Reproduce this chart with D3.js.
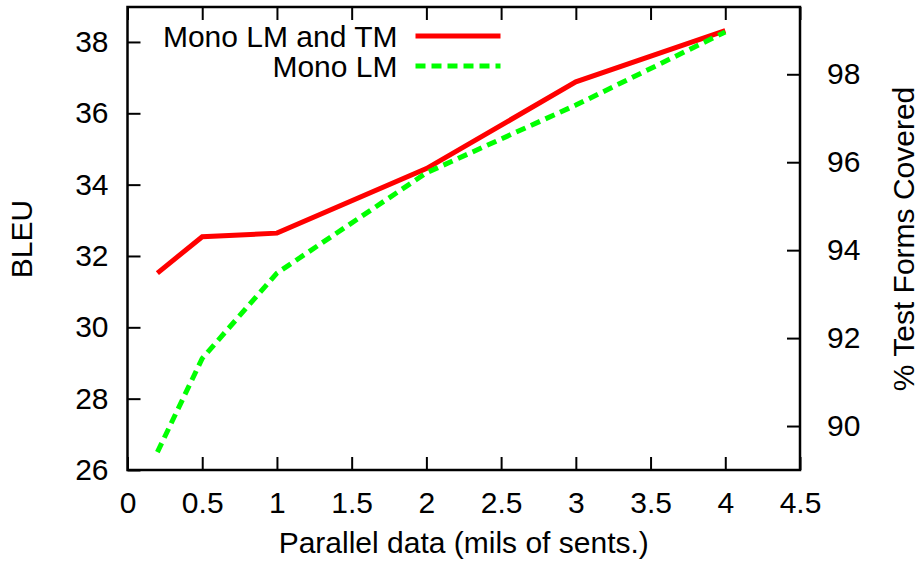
<!DOCTYPE html>
<html>
<head>
<meta charset="utf-8">
<script src="https://cdn.jsdelivr.net/npm/d3@7"></script>
<style>
  body { margin: 0; background: #fff; }
  svg text { font-family: "Liberation Sans", Arial, sans-serif; font-size: 30px; fill: #000; }
  .axis line { stroke: #000; stroke-width: 2; }
  .axis path { display: none; }
</style>
</head>
<body>
<div id="chart"></div>
<script>
// parallel data sizes (millions of sentences)
var sizes = [0.2, 0.5, 1, 2, 3, 4];
var monoLmTm = [31.52, 32.54, 32.64, 34.45, 36.88, 38.32];
var monoLm = [26.5, 29.13, 31.52, 34.33, 36.23, 38.28];

var seriesNames = ["Mono LM and TM", "Mono LM"];
var xTicks = [0, 0.5, 1, 1.5, 2, 2.5, 3, 3.5, 4, 4.5];
var yTicks = [26, 28, 30, 32, 34, 36, 38];
var y2Ticks = [90, 92, 94, 96, 98];

var width = 920, height = 561;
var margin = {left: 127.5, right: 120, top: 7, bottom: 91};
var w = width - margin.left - margin.right;
var h = height - margin.top - margin.bottom;

var x = d3.scaleLinear().domain([0, 4.5]).range([0, w]);
var y = d3.scaleLinear().domain([26, 38.98]).range([h, 0]);
var y2 = d3.scaleLinear().domain([89, 99.53]).range([h, 0]);

var svg = d3.select("#chart").append("svg")
    .attr("width", width)
    .attr("height", height);

var g = svg.append("g")
    .attr("transform", "translate(" + margin.left + "," + margin.top + ")");

// ticks point inward, gnuplot style
g.append("g").attr("class", "axis x")
    .attr("transform", "translate(0," + h + ")")
    .call(d3.axisBottom(x).tickValues(xTicks).tickSize(-13).tickSizeOuter(0)
        .tickPadding(22).tickFormat(function(d){ return String(d); }));

// mirrored x ticks on top
g.append("g").attr("class", "axis x2")
    .call(d3.axisTop(x).tickValues(xTicks).tickSize(-13).tickSizeOuter(0).tickFormat(""));

g.append("g").attr("class", "axis y")
    .call(d3.axisLeft(y).tickValues(yTicks).tickSize(-13).tickSizeOuter(0)
        .tickPadding(19).tickFormat(function(d){ return String(d); }));

g.append("g").attr("class", "axis y2")
    .attr("transform", "translate(" + w + ",0)")
    .call(d3.axisRight(y2).tickValues(y2Ticks).tickSize(-13).tickSizeOuter(0)
        .tickPadding(27).tickFormat(function(d){ return String(d); }));

g.selectAll(".axis text").style("font-size", "30px");

// frame
g.append("rect")
    .attr("width", w).attr("height", h)
    .attr("fill", "none").attr("stroke", "#000").attr("stroke-width", 2.5);

var line = d3.line()
    .x(function(d){ return x(d[0]); })
    .y(function(d){ return y(d[1]); });

var styles = [
  {color: "#ff0000", dash: null, data: monoLmTm},
  {color: "#00ff00", dash: "10,6", data: monoLm}
];

styles.forEach(function(s, i) {
  g.append("path")
      .attr("d", line(sizes.map(function(v, j){ return [v, s.data[j]]; })))
      .attr("fill", "none")
      .attr("stroke", s.color)
      .attr("stroke-width", 5)
      .attr("stroke-dasharray", s.dash);

  // legend
  var ly = 29 + i * 30;
  g.append("text")
      .attr("x", 270).attr("y", ly)
      .attr("dy", "0.35em")
      .attr("text-anchor", "end")
      .text(seriesNames[i]);
  g.append("line")
      .attr("x1", 288).attr("x2", 373)
      .attr("y1", ly).attr("y2", ly)
      .attr("stroke", s.color)
      .attr("stroke-width", 5)
      .attr("stroke-dasharray", s.dash);
});

// axis titles
svg.append("text")
    .attr("x", margin.left + w / 2).attr("y", 553)
    .attr("text-anchor", "middle")
    .text("Parallel data (mils of sents.)");

svg.append("text")
    .attr("transform", "translate(32,239) rotate(-90)")
    .attr("text-anchor", "middle")
    .text("BLEU");

svg.append("text")
    .attr("transform", "translate(914,239) rotate(-90)")
    .attr("text-anchor", "middle")
    .text("% Test Forms Covered");
</script>
</body>
</html>
